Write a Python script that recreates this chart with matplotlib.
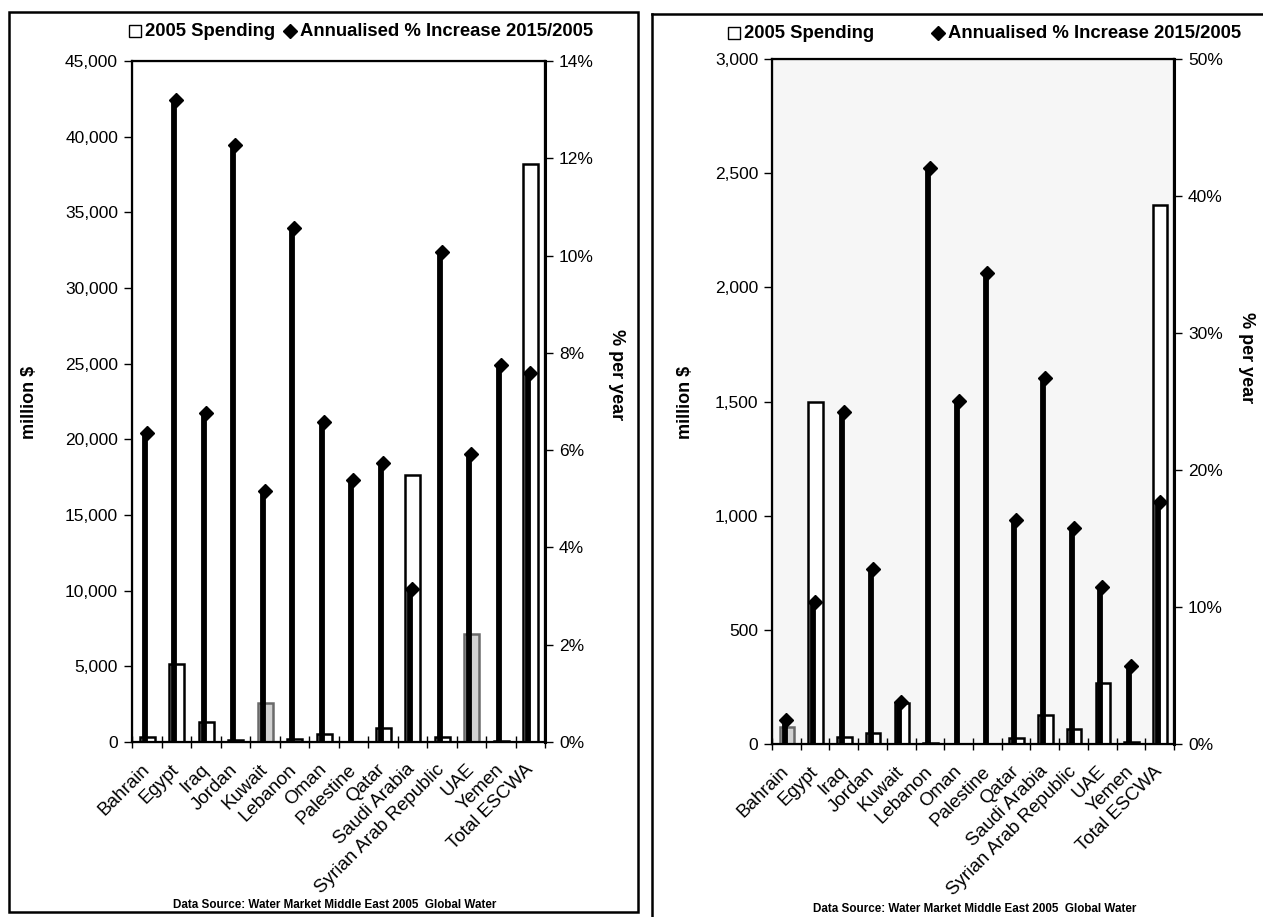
import matplotlib
matplotlib.use("Agg")
import matplotlib.pyplot as plt
import numpy as np
from matplotlib.patches import Rectangle
from matplotlib.lines import Line2D
from matplotlib.ticker import FuncFormatter, FixedLocator

# ---------------- DATA ----------------
categories = ["Bahrain", "Egypt", "Iraq", "Jordan", "Kuwait", "Lebanon", "Oman",
              "Palestine", "Qatar", "Saudi Arabia", "Syrian Arab Republic", "UAE",
              "Yemen", "Total ESCWA"]

# Left chart
left_spending = [350, 5150, 1300, 100, 2600, 200, 550, 30, 950, 17650, 330, 7150, 50, 38200]
left_increase = [6.35, 13.2, 6.77, 12.28, 5.17, 10.57, 6.57, 5.38, 5.74, 3.14, 10.07, 5.93, 7.76, 7.58]
left_stippled = ["Kuwait", "UAE"]

# Right chart
right_spending = [75, 1500, 32, 47, 181, 3, 2, 0, 25, 127, 64, 266, 10, 2360]
right_increase = [1.75, 10.4, 24.2, 12.8, 3.1, 42.05, 25.05, 34.4, 16.35, 26.7, 15.75, 11.45, 5.72, 17.7]
right_stippled = ["Bahrain"]

legend_bar = "2005 Spending"
legend_line = "Annualised % Increase 2015/2005"
left_ylabel = "million $"
right_ylabel = "% per year"
source_text = "Data Source: Water Market Middle East 2005  Global Water"

# ---------------- STYLE ----------------
W, H = 1263, 917
plt.rcParams['font.family'] = ['Liberation Sans', 'DejaVu Sans']
fig = plt.figure(figsize=(W / 100, H / 100), dpi=100)
fig.patch.set_facecolor('white')


def px(x0, y0, x1, y1):
    return [x0 / W, 1 - y1 / H, (x1 - x0) / W, (y1 - y0) / H]


def panel(rect, spend, inc, stippled, ymax, ystep, pmax, pstep, bg):
    ax = fig.add_axes(rect)
    ax.set_facecolor(bg)
    n = len(categories)
    x = np.arange(n)
    fc = ['#d2d2d2' if c in stippled else 'white' for c in categories]
    ec = ['#6a6a6a' if c in stippled else 'black' for c in categories]
    ax.bar(x + 0.02, spend, width=0.5, color=fc, edgecolor=ec, linewidth=1.8, zorder=2)
    ax.set_xlim(-0.5, n - 0.5)
    ax.set_ylim(0, ymax)
    ax.yaxis.set_major_locator(FixedLocator(np.arange(0, ymax + 1, ystep)))
    ax.yaxis.set_major_formatter(FuncFormatter(lambda v, p: f"{int(v):,}"))
    ax.set_xticks(np.arange(-0.5, n, 1.0))
    ax.set_xticklabels([])
    ax.set_xticks(x, minor=True)
    ax.set_xticklabels(categories, minor=True, rotation=45, ha='right', va='center',
                       rotation_mode='anchor', fontsize=13.5)
    ax.tick_params(axis='x', which='minor', length=0, pad=18)
    ax.tick_params(axis='x', which='major', direction='inout', length=8, width=1)
    ax.tick_params(axis='y', direction='out', length=6, width=1, labelsize=12.5, pad=4)
    for s in ax.spines.values():
        s.set_linewidth(1.6)
        s.set_color('black')

    ax2 = ax.twinx()
    ax2.set_ylim(0, pmax)
    ax2.yaxis.set_major_locator(FixedLocator(np.arange(0, pmax + 0.001, pstep)))
    ax2.yaxis.set_major_formatter(FuncFormatter(lambda v, p: f"{v:.0f}%"))
    ax2.tick_params(axis='y', direction='out', length=6, width=1, labelsize=12.5, pad=4)
    ax2.spines['right'].set_linewidth(2.2)
    ax2.vlines(x - 0.06, 0, inc, colors='black', linewidth=4.2, zorder=3)
    ax2.plot(x, inc, linestyle='none', marker='D', markersize=7, color='black', zorder=4)
    return ax, ax2


axL, axL2 = panel(px(132, 61, 545, 742), left_spending, left_increase, left_stippled,
                  45000, 5000, 14, 2, 'white')
axR, axR2 = panel(px(772, 59, 1174, 744), right_spending, right_increase, right_stippled,
                  3000, 500, 50, 10, '#f6f6f6')

# axis titles
fig.text(30 / W, 1 - 402 / H, left_ylabel, rotation=90, ha='center', va='center',
         fontsize=13, fontweight='bold')
fig.text(617 / W, 1 - 375 / H, right_ylabel, rotation=270, ha='center', va='center',
         fontsize=13, fontweight='bold')
fig.text(685 / W, 1 - 402 / H, left_ylabel, rotation=90, ha='center', va='center',
         fontsize=13, fontweight='bold')
fig.text(1247 / W, 1 - 358 / H, right_ylabel, rotation=270, ha='center', va='center',
         fontsize=13, fontweight='bold')

# legends
def legend_item(x0, y0, marker, text, mfc):
    fig.add_artist(Line2D([x0 / W], [1 - y0 / H], marker=marker, markersize=8 if marker == 's' else 7,
                          markerfacecolor=mfc, markeredgecolor='black', markeredgewidth=1,
                          linestyle='none', transform=fig.transFigure))
    fig.text((x0 + 10) / W, 1 - y0 / H, text, ha='left', va='center', fontsize=13.3,
             fontweight='bold')

legend_item(135, 31, 's', legend_bar, 'white')
legend_item(290, 31, 'D', legend_line, 'black')
legend_item(734, 33, 's', legend_bar, 'white')
legend_item(938, 33, 'D', legend_line, 'black')

# source
fig.text(335 / W, 1 - 905 / H, source_text, ha='center', va='center', fontsize=8.4, fontweight='bold')
fig.text(975 / W, 1 - 909 / H, source_text, ha='center', va='center', fontsize=8.4, fontweight='bold')

# panel frames
fig.add_artist(Rectangle((9 / W, 1 - 912 / H), (638 - 9) / W, (912 - 12) / H, fill=False,
                         edgecolor='black', linewidth=1.8, transform=fig.transFigure))
fig.add_artist(Line2D([652 / W, 652 / W], [0, 1 - 14 / H], color='black', linewidth=1.8,
                      transform=fig.transFigure))
fig.add_artist(Line2D([652 / W, 1], [1 - 14 / H, 1 - 14 / H], color='black', linewidth=1.8,
                      transform=fig.transFigure))

fig.savefig("out.png", dpi=100)
